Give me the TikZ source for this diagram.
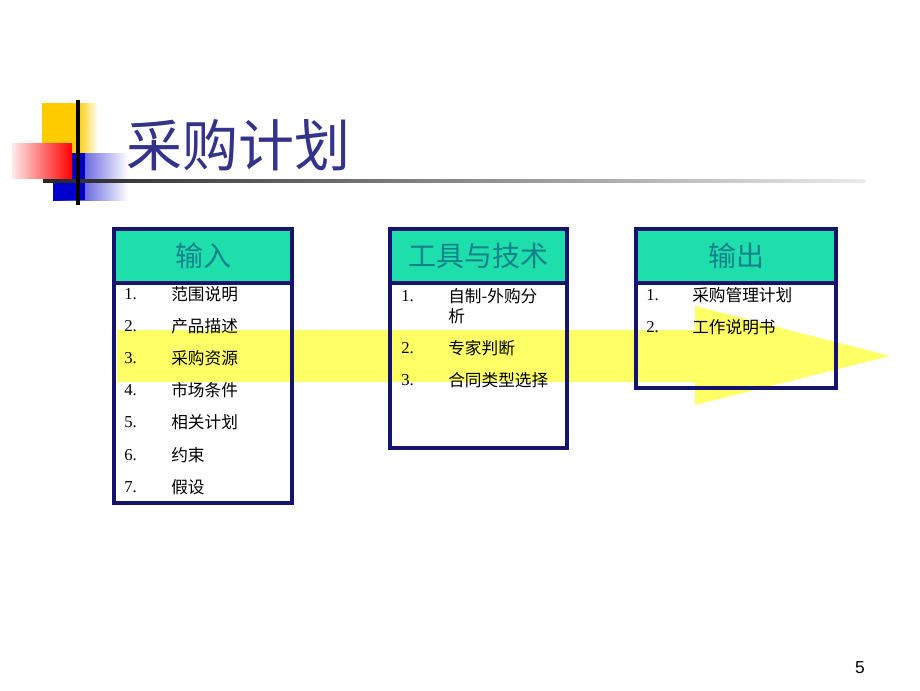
\documentclass[tikz,border=0pt]{standalone}
\usepackage{fontspec}
\setmainfont{Liberation Serif}
\setsansfont{Liberation Sans}
\newfontfamily\cjk{Noto Sans CJK SC}
\definecolor{navy}{RGB}{20,20,110}
\definecolor{titlec}{RGB}{51,51,140}
\definecolor{headfill}{RGB}{30,222,172}
\definecolor{headtext}{RGB}{20,130,140}
\definecolor{goldc}{RGB}{255,204,0}
\definecolor{arrowy}{RGB}{255,255,0}
\tikzset{
  boxline/.style={draw=navy, line width=2.4pt},
  headtxt/.style={font=\cjk\fontsize{21}{24}\selectfont, text=headtext, anchor=center, inner sep=0pt},
  numtxt/.style={font=\rmfamily\fontsize{12.5}{15}\selectfont, anchor=west, inner sep=0pt},
  itemtxt/.style={font=\cjk\fontsize{12.5}{15}\selectfont, anchor=west, inner sep=0pt, align=left},
}
\begin{document}
\begin{tikzpicture}[x=0.75pt,y=-0.75pt]
\useasboundingbox (0,0) rectangle (920,690);
\fill[white] (0,0) rectangle (920,690);
% decoration
\fill[goldc] (42,103) rectangle (78,155);
\shade[left color=goldc, right color=white] (78,103) rectangle (98,155);
\shade[left color=blue!80!black, right color=white] (53,153) rectangle (128,200);
\fill[blue!80!black] (53,153) rectangle (85,200);
\shade[left color=red!8, right color=red] (12,143) rectangle (72,178);
\shade[left color=black!85, right color=black!8] (43,179.5) rectangle (865,182.5);
\draw[line width=2.5pt, black] (78,100) -- (78,205);
% title
\node[font=\cjk\fontsize{42}{48}\selectfont, text=titlec, anchor=west, inner sep=0pt] (title) at (126,145) {采购计划};
% box fills
\fill[white] (114,229) rectangle (292,503);
\fill[white] (390,229) rectangle (567,448);
\fill[white] (636,229) rectangle (836,388);
\fill[headfill] (114,229) rectangle (292,283);
\fill[headfill] (390,229) rectangle (567,283);
\fill[headfill] (636,229) rectangle (836,283);
% arrow
\fill[arrowy, fill opacity=0.6] (117,330) -- (695,330) -- (695,306) -- (890,356) -- (695,405) -- (695,382) -- (117,382) -- cycle;
% box borders
\draw[boxline] (114,229) rectangle (292,503);
\draw[boxline] (114,283) -- (292,283);
\draw[boxline] (390,229) rectangle (567,448);
\draw[boxline] (390,283) -- (567,283);
\draw[boxline] (636,229) rectangle (836,388);
\draw[boxline] (636,283) -- (836,283);
% headers
\node[headtxt] (h1) at (203,256) {输入};
\node[headtxt] (h2) at (478.5,256) {工具与技术};
\node[headtxt] (h3) at (736,256) {输出};
% box 1 items
\node[numtxt] (n11) at (124,294) {1.};
\node[itemtxt] (t11) at (171,294) {范围说明};
\node[numtxt] (n12) at (124,326) {2.};
\node[itemtxt] (t12) at (171,326) {产品描述};
\node[numtxt] (n13) at (124,358) {3.};
\node[itemtxt] (t13) at (171,358) {采购资源};
\node[numtxt] (n14) at (124,390) {4.};
\node[itemtxt] (t14) at (171,390) {市场条件};
\node[numtxt] (n15) at (124,422) {5.};
\node[itemtxt] (t15) at (171,422) {相关计划};
\node[numtxt] (n16) at (124,455) {6.};
\node[itemtxt] (t16) at (171,455) {约束};
\node[numtxt] (n17) at (124,487) {7.};
\node[itemtxt] (t17) at (171,487) {假设};
% box 2 items
\node[numtxt] (n21) at (401,296) {1.};
\node[itemtxt] (t21a) at (448,296) {自制-外购分};
\node[itemtxt] (t21b) at (448,316) {析};
\node[numtxt] (n22) at (401,348) {2.};
\node[itemtxt] (t22) at (448,348) {专家判断};
\node[numtxt] (n23) at (401,380) {3.};
\node[itemtxt] (t23) at (448,380) {合同类型选择};
% box 3 items
\node[numtxt] (n31) at (646,295) {1.};
\node[itemtxt] (t31) at (692,295) {采购管理计划};
\node[numtxt] (n32) at (646,327) {2.};
\node[itemtxt] (t32) at (692,327) {工作说明书};
% page number
\node[font=\sffamily\fontsize{13}{15}\selectfont, anchor=center, inner sep=0pt] (pg) at (860,668) {5};
\end{tikzpicture}
\end{document}
